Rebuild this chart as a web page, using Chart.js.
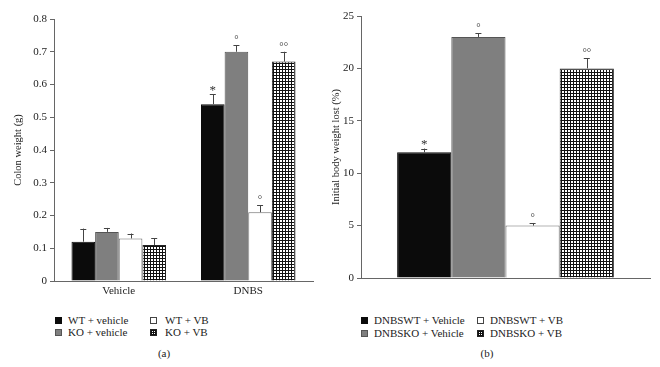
<!DOCTYPE html>
<html>
<head>
<meta charset="utf-8">
<script src="https://cdn.jsdelivr.net/npm/chart.js@4"></script>
<style>
  body { margin: 0; background: #fff; width: 660px; height: 367px; position: relative; overflow: hidden;
         font-family: 'Liberation Serif', 'DejaVu Serif', serif; color: #222; }
  canvas { position: absolute; top: 0; }
  .lg { position: absolute; font-size: 11px; line-height: 14px; height: 14px; white-space: nowrap; }
  .sw { position: absolute; width: 5px; height: 5px; border: 1px solid #222; }
  .cap { position: absolute; font-size: 11px; line-height: 14px; transform: translateX(-50%); }
</style>
</head>
<body>
<canvas id="chartA" width="330" height="300" style="left:0"></canvas>
<canvas id="chartB" width="330" height="300" style="left:330px"></canvas>
<div id="legendA"></div>
<div id="legendB"></div>
<div class="cap" style="left:164px; top:346px">(a)</div>
<div class="cap" style="left:487px; top:346px">(b)</div>
<script>
// ---- panel (a): colon weight ----
const groupLabels = ['Vehicle', 'DNBS'];
const seriesA = ['WT + vehicle', 'KO + vehicle', 'WT + VB', 'KO + VB'];
const wtVehicle = [0.12, 0.54];
const koVehicle = [0.15, 0.70];
const wtVB = [0.13, 0.21];
const koVB = [0.11, 0.67];
const wtVehicleErr = [0.04, 0.03];
const koVehicleErr = [0.012, 0.02];
const wtVBErr = [0.015, 0.021];
const koVBErr = [0.021, 0.03];
const wtVehicleMark = ['', '*'];
const koVehicleMark = ['', '°'];
const wtVBMark = ['', '°'];
const koVBMark = ['', '°°'];

// ---- panel (b): body weight lost ----
const seriesB = ['DNBSWT + Vehicle', 'DNBSKO + Vehicle', 'DNBSWT + VB', 'DNBSKO + VB'];
const weightLost = [12, 23, 5, 20];
const weightLostErr = [0.35, 0.35, 0.25, 0.95];
const weightLostMark = ['*', '°', '°', '°°'];

const FONT = "'Liberation Serif', 'DejaVu Serif', serif";

// small grid pattern for the KO + VB bars
function gridPattern() {
  const c = document.createElement('canvas');
  c.width = 3; c.height = 3;
  const g = c.getContext('2d');
  g.fillStyle = '#fff'; g.fillRect(0, 0, 3, 3);
  g.fillStyle = '#111'; g.fillRect(0, 0, 3, 1); g.fillRect(0, 0, 1, 3);
  return g.createPattern(c, 'repeat');
}
const checker = gridPattern();

const fills = ['#0b0b0b', '#7f7f7f', '#ffffff', checker];
const borders = ['#0b0b0b', '#555555', '#6a6a6a', '#222222'];

// upper error whiskers + significance marks
const errorBars = {
  id: 'errorBars',
  afterDatasetsDraw(chart) {
    const ctx = chart.ctx;
    const y = chart.scales.y;
    ctx.save();
    chart.data.datasets.forEach((ds, i) => {
      chart.getDatasetMeta(i).data.forEach((bar, j) => {
        const top = y.getPixelForValue(ds.data[j] + ds.errors[j]);
        ctx.strokeStyle = '#444';
        ctx.lineWidth = 1;
        ctx.beginPath();
        ctx.moveTo(Math.round(bar.x) + 0.5, bar.y);
        ctx.lineTo(Math.round(bar.x) + 0.5, top);
        ctx.moveTo(bar.x - 3, Math.round(top) + 0.5);
        ctx.lineTo(bar.x + 3, Math.round(top) + 0.5);
        ctx.stroke();
        const m = ds.marks[j];
        if (m) {
          ctx.fillStyle = '#333';
          ctx.textAlign = 'center';
          ctx.textBaseline = 'middle';
          if (m === '*') {
            ctx.font = '13px ' + FONT;
            ctx.fillText(m, bar.x, top - 4);
          } else {
            ctx.font = '11px ' + FONT;
            ctx.fillText(m, bar.x, top - 5);
          }
        }
      });
    });
    ctx.restore();
  }
};

function axes(yMax, step, yWidth, xHeight, yTitle, titlePad, showX) {
  return {
    x: {
      grid: { display: true, drawOnChartArea: false, drawTicks: false },
      border: { color: '#666' },
      ticks: { display: showX, padding: 4, color: '#222', font: { family: FONT, size: 11 } },
      afterFit: s => { s.height = xHeight; }
    },
    y: {
      min: 0, max: yMax,
      ticks: { stepSize: step, padding: 3, color: '#222', font: { family: FONT, size: 11 } },
      grid: { display: true, drawOnChartArea: false, drawTicks: true, tickLength: 4, color: '#666' },
      border: { color: '#666' },
      title: { display: true, text: yTitle, color: '#222', padding: { top: titlePad, bottom: 0 },
               font: { family: FONT, size: 10.5 } },
      afterFit: s => { s.width = yWidth; }
    }
  };
}

const dataA = [wtVehicle, koVehicle, wtVB, koVB];
const errA = [wtVehicleErr, koVehicleErr, wtVBErr, koVBErr];
const marksA = [wtVehicleMark, koVehicleMark, wtVBMark, koVBMark];

new Chart(document.getElementById('chartA'), {
  type: 'bar',
  data: {
    labels: groupLabels,
    datasets: seriesA.map((name, i) => ({
      label: name, data: dataA[i], errors: errA[i], marks: marksA[i],
      backgroundColor: fills[i], borderColor: borders[i], borderWidth: 1
    }))
  },
  options: {
    responsive: false, animation: false,
    categoryPercentage: 0.73, barPercentage: 1,
    layout: { padding: { left: 0, right: 17, top: 19, bottom: 0 } },
    plugins: { legend: { display: false }, tooltip: { enabled: false } },
    scales: axes(0.8, 0.1, 54, 19, 'Colon weight (g)', 12, true)
  },
  plugins: [errorBars]
});

new Chart(document.getElementById('chartB'), {
  type: 'bar',
  data: {
    labels: [''],
    datasets: seriesB.map((name, i) => ({
      label: name, data: [weightLost[i]], errors: [weightLostErr[i]], marks: [weightLostMark[i]],
      backgroundColor: fills[i], borderColor: borders[i], borderWidth: 1
    }))
  },
  options: {
    responsive: false, animation: false,
    categoryPercentage: 0.75, barPercentage: 1,
    layout: { padding: { left: 0, right: 10, top: 16, bottom: 0 } },
    plugins: { legend: { display: false }, tooltip: { enabled: false } },
    scales: axes(25, 5, 31, 22, 'Initial body weight lost (%)', 0, false)
  },
  plugins: [errorBars]
});

// HTML legends laid out as 2 x 2, like the figure
function legend(el, names, boxX, textX, rows) {
  const order = [0, 2, 1, 3]; // row 1: items 0 and 2, row 2: items 1 and 3
  order.forEach((idx, k) => {
    const col = k % 2, row = Math.floor(k / 2);
    const cy = rows[row];
    const sw = document.createElement('div');
    sw.className = 'sw';
    sw.style.left = boxX[col] + 'px';
    sw.style.top = (cy - 3) + 'px';
    sw.style.borderColor = idx === 2 ? '#444' : borders[idx];
    if (idx === 3) {
      sw.style.background = 'repeating-linear-gradient(0deg,#111 0 1px,transparent 1px 2px),repeating-linear-gradient(90deg,#111 0 1px,#fff 1px 2px)';
    } else {
      sw.style.background = fills[idx];
    }
    el.appendChild(sw);
    const t = document.createElement('div');
    t.className = 'lg';
    t.textContent = names[idx];
    t.style.left = textX[col] + 'px';
    t.style.top = (cy - 7) + 'px';
    el.appendChild(t);
  });
}
legend(document.getElementById('legendA'), seriesA, [55, 150], [68, 165], [320, 332]);
legend(document.getElementById('legendB'), seriesB, [361, 477], [374, 490], [320, 333]);
</script>
</body>
</html>
